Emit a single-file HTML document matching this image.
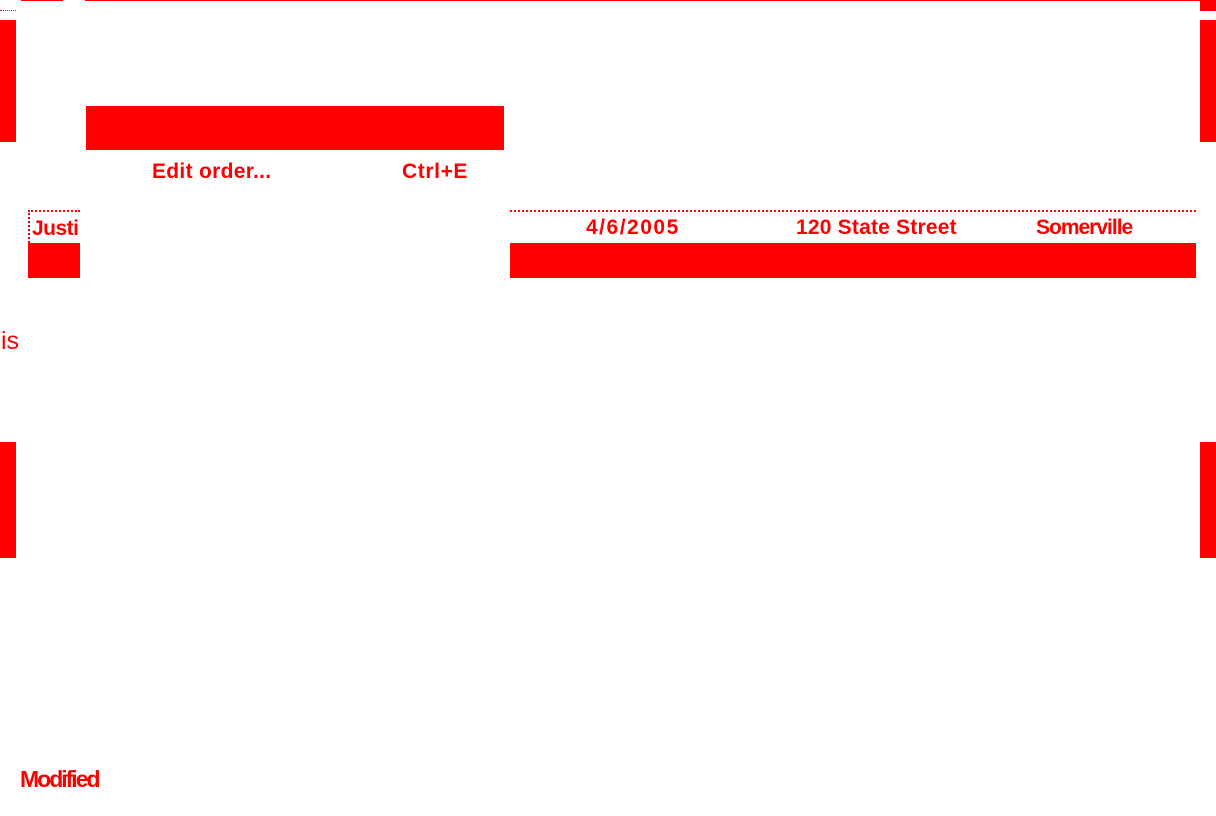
<!DOCTYPE html>
<html><head><meta charset="utf-8"><style>
html,body{margin:0;padding:0;background:#fff;width:1216px;height:816px;overflow:hidden;position:relative;font-family:"Liberation Sans",sans-serif;color:#ff0000}
.r{position:absolute;background:#ff0000}
.t{position:absolute;font-weight:bold;font-size:21px;line-height:24px;letter-spacing:-0.5px;white-space:nowrap}
.dot{position:absolute;border-top:2px dotted #ff0000;height:0}
</style></head><body>
<div class="r" style="left:21px;top:0;width:42px;height:1px"></div>
<div class="r" style="left:85px;top:0;width:1115px;height:1px"></div>
<div class="r" style="left:1200px;top:0;width:16px;height:11px"></div>
<div class="dot" style="left:0;top:10px;width:16px;border-top-width:1px"></div>
<div class="r" style="left:0;top:20px;width:16px;height:122px"></div>
<div class="r" style="left:1200px;top:20px;width:16px;height:122px"></div>
<div class="r" style="left:0;top:442px;width:16px;height:116px"></div>
<div class="r" style="left:1200px;top:442px;width:16px;height:116px"></div>

<div class="r" style="left:86px;top:106px;width:418px;height:44px"></div>
<div class="t" style="left:152px;top:160px;letter-spacing:0.3px">Edit order...</div>
<div class="t" style="left:402px;top:160px;letter-spacing:0.6px">Ctrl+E</div>

<div class="dot" style="left:28px;top:210px;width:52px"></div>
<div style="position:absolute;left:28px;top:210px;width:2px;height:33px;border-left:2px dotted #ff0000"></div>
<div style="position:absolute;left:30px;top:212px;width:50px;height:31px;overflow:hidden"><div class="t" style="left:2px;top:5px">Justin</div></div>
<div class="r" style="left:28px;top:243px;width:52px;height:35px"></div>

<div class="dot" style="left:510px;top:210px;width:686px"></div>
<div class="t" style="left:586px;top:216px;letter-spacing:1.5px">4/6/2005</div>
<div class="t" style="left:796px;top:216px;letter-spacing:0.2px">120 State Street</div>
<div class="t" style="left:1036px;top:216px;letter-spacing:-1px">Somerville</div>
<div class="r" style="left:510px;top:243px;width:686px;height:35px"></div>

<div style="position:absolute;left:1px;top:327px;font-size:25px;line-height:28px">is</div>
<div class="t" style="left:20px;top:767px;font-size:23px;letter-spacing:-2px">Modified</div>
</body></html>
